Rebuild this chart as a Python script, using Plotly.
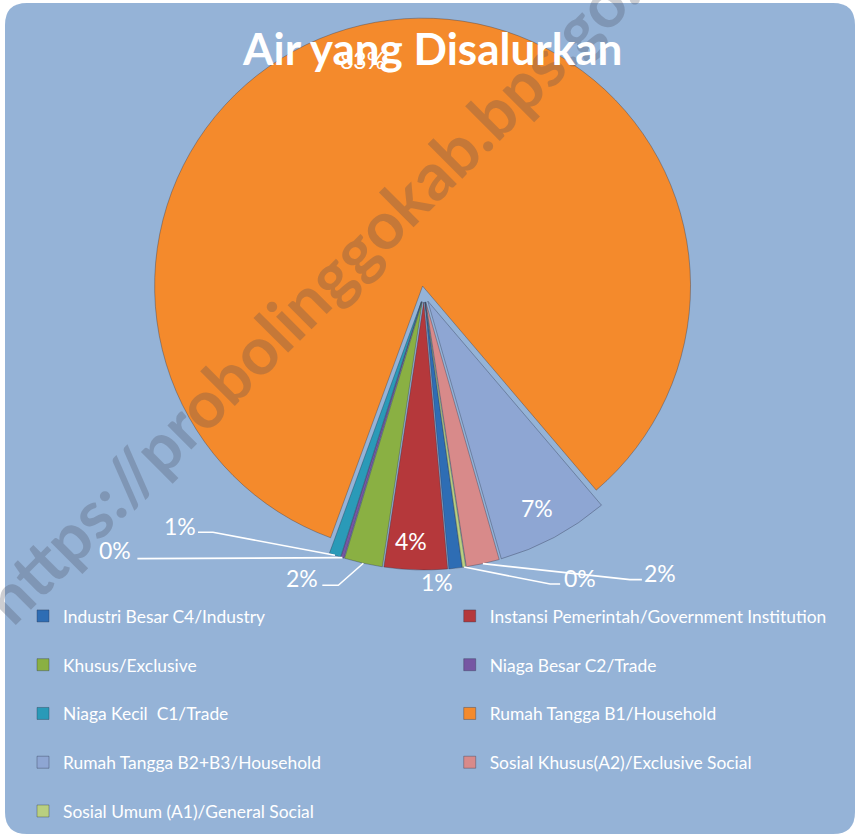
import math
import plotly.graph_objects as go

# ---------------- data ----------------
categories = [
    "Industri Besar C4/Industry",
    "Instansi Pemerintah/Government Institution",
    "Khusus/Exclusive",
    "Niaga Besar C2/Trade",
    "Niaga Kecil  C1/Trade",
    "Rumah Tangga B1/Household",
    "Rumah Tangga B2+B3/Household",
    "Sosial Khusus(A2)/Exclusive Social",
    "Sosial Umum (A1)/General Social",
]
shares = [0.8, 3.8, 2.3, 0.2, 0.7, 83.2, 6.8, 2.0, 0.2]
title_text = "Air yang Disalurkan"
watermark_text = "https://probolinggokab.bps.go.id"

# ---------------- styles ----------------
colors = ["#2E6DB4", "#B5383B", "#8AB043", "#7656A3", "#2A9AB8",
          "#F48A2C", "#8EA6D3", "#D88A8A", "#B9CF80"]
W, H = 856, 835
BG = "#95B3D7"
FONT = "Lato"
PULL = 0.03
ROTATION = 172
DOM_X = [148 / W, 700 / W]
DOM_Y = [1 - 570 / H, 1 - 18 / H]

# label offsets (px) relative to slice outer-edge point: text, and optional leader (elbow, end)
label_style = [
    dict(t=(-19, 14)),
    dict(t=(-5, -29)),
    dict(t=(-61, 15), lead=[(-25, 22), (-41, 22)]),
    dict(t=(-227, -8), lead=[(-205, 1)]),
    dict(t=(-155, -29), lead=[(-122, -23), (-137, -23)]),
    dict(t=(-13, 38)),
    dict(t=(-17, -29)),
    dict(t=(177, 9), lead=[(147, 16), (159, 16)]),
    dict(t=(116, 11), lead=[(86, 17), (96, 17)]),
]

# ---------------- geometry (mirrors plotly's pie layout) ----------------
total = sum(shares)
box_w = W * (DOM_X[1] - DOM_X[0])
box_h = H * (DOM_Y[1] - DOM_Y[0])
r = min(box_w, box_h) / (2 + 2 * PULL)
cx = W * (DOM_X[0] + DOM_X[1]) / 2
cy = H * (1 - DOM_Y[0]) - box_h / 2


def px2paper(x, y):
    return x / W, 1 - y / H


annotations = []
shapes = []

# rounded chart-area background
L, R_, T, B = 5 / W, 855 / W, 1 - 3 / H, 1 - 834 / H
rx, ry = 22 / W, 22 / H
bg_path = (f"M {L+rx},{T} L {R_-rx},{T} Q {R_},{T} {R_},{T-ry} L {R_},{B+ry} "
           f"Q {R_},{B} {R_-rx},{B} L {L+rx},{B} Q {L},{B} {L},{B+ry} "
           f"L {L},{T-ry} Q {L},{T} {L+rx},{T} Z")
shapes.append(dict(type="path", path=bg_path, xref="paper", yref="paper",
                   fillcolor=BG, line=dict(width=0), layer="below"))

start = ROTATION
for v, st in zip(shares, label_style):
    span = v / total * 360
    mid = math.radians(start + span / 2)
    start += span
    ex = cx + (1 + PULL) * r * math.sin(mid)
    ey = cy - (1 + PULL) * r * math.cos(mid)
    txt = f"{round(100 * v / total)}%"
    tx, ty = px2paper(ex + st["t"][0], ey + st["t"][1])
    annotations.append(dict(text=txt, x=tx, y=ty, xref="paper", yref="paper",
                            showarrow=False, xanchor="center", yanchor="middle",
                            font=dict(family=FONT, size=23, color="white")))
    if "lead" in st:
        pts = [(ex, ey)] + [(ex + dx, ey + dy) for dx, dy in st["lead"]]
        pp = [px2paper(*p) for p in pts]
        path = "M " + " L ".join(f"{a},{b}" for a, b in pp)
        shapes.append(dict(type="path", path=path, xref="paper", yref="paper",
                           line=dict(color="white", width=1.6)))

# watermark
wx, wy = px2paper(329, 275)
annotations.append(dict(text=f"<b>{watermark_text}</b>", x=wx, y=wy, xref="paper", yref="paper",
                        showarrow=False, textangle=-45, xanchor="center", yanchor="middle",
                        font=dict(family=FONT, size=66, color="rgba(70,75,90,0.27)")))

# title
ttx, tty = px2paper(432, 48)
annotations.append(dict(text=f"<b>{title_text}</b>", x=ttx, y=tty, xref="paper", yref="paper",
                        showarrow=False, xanchor="center", yanchor="middle",
                        font=dict(family=FONT, size=44, color="white")))

legend_labels = [f'<span style="font-size:17.4px">{c}</span><br>\u00a0' for c in categories]

fig = go.Figure(go.Pie(
    labels=legend_labels,
    values=shares,
    sort=False,
    direction="clockwise",
    rotation=ROTATION,
    pull=[PULL] * len(shares),
    textinfo="none",
    hoverinfo="label+percent",
    marker=dict(colors=colors, line=dict(color="rgba(40,50,70,0.35)", width=1)),
    domain=dict(x=DOM_X, y=DOM_Y),
))

fig.update_layout(
    width=W, height=H,
    margin=dict(l=0, r=0, t=0, b=0, autoexpand=False),
    paper_bgcolor="white",
    plot_bgcolor="rgba(0,0,0,0)",
    font=dict(family=FONT, color="white"),
    showlegend=True,
    legend=dict(
        orientation="h", x=23 / W, xanchor="left", y=1 - 598 / H, yanchor="top",
        entrywidth=0.4985, entrywidthmode="fraction", valign="top",
        font=dict(family=FONT, size=17.6, color="white"),
        bgcolor="rgba(0,0,0,0)", traceorder="normal",
    ),
    shapes=shapes,
    annotations=annotations,
)

fig.write_html(
    "out.html",
    config={"displayModeBar": False},
    post_script="document.body.style.margin='0px';document.body.style.overflow='hidden';",
)
